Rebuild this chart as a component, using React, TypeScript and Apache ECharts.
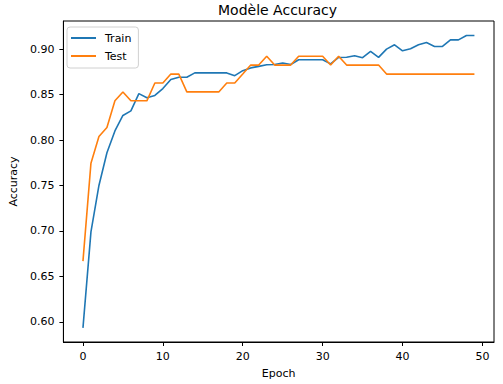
import React, { useEffect, useRef } from "react";
import * as echarts from "echarts";

const epochs = [
  0, 1, 2, 3, 4, 5, 6, 7, 8, 9, 10, 11, 12, 13, 14, 15, 16, 17, 18, 19, 20, 21, 22, 23, 24,
  25, 26, 27, 28, 29, 30, 31, 32, 33, 34, 35, 36, 37, 38, 39, 40, 41, 42, 43, 44, 45, 46, 47, 48, 49,
];

const trainAcc = [
  0.5934, 0.699, 0.75, 0.786, 0.81, 0.827, 0.832, 0.851, 0.8465, 0.849,
  0.8566, 0.8665, 0.869, 0.869, 0.8738, 0.8738, 0.8738, 0.8738, 0.8738, 0.8708,
  0.8763, 0.8793, 0.881, 0.8828, 0.883, 0.8847, 0.883, 0.8883, 0.8883, 0.8883,
  0.8883, 0.8837, 0.8908, 0.891, 0.8927, 0.8905, 0.8974, 0.8909, 0.9, 0.9047,
  0.8981, 0.9003, 0.9047, 0.9072, 0.9029, 0.9029, 0.9101, 0.9101, 0.9149, 0.9149,
];

const testAcc = [
  0.6667, 0.7745, 0.8039, 0.8137, 0.8431, 0.8529, 0.8431, 0.8431, 0.8431, 0.8627,
  0.8627, 0.8725, 0.8725, 0.8529, 0.8529, 0.8529, 0.8529, 0.8529, 0.8627, 0.8627,
  0.8725, 0.8824, 0.8824, 0.8922, 0.8824, 0.8824, 0.8824, 0.8922, 0.8922, 0.8922,
  0.8922, 0.8824, 0.8922, 0.8824, 0.8824, 0.8824, 0.8824, 0.8824, 0.8725, 0.8725,
  0.8725, 0.8725, 0.8725, 0.8725, 0.8725, 0.8725, 0.8725, 0.8725, 0.8725, 0.8725,
];

const xTicks = [0, 10, 20, 30, 40, 50];
const yTicks = [0.6, 0.65, 0.7, 0.75, 0.8, 0.85, 0.9];

const FONT = "DejaVu Sans";

export default function App() {
  const ref = useRef<HTMLDivElement>(null);

  useEffect(() => {
    if (!ref.current) return;
    const chart = echarts.init(ref.current, null, { renderer: "svg" });
    const gridLeft = 61;
    const gridRight = 9;
    chart.setOption({
      animation: false,
      backgroundColor: "#ffffff",
      graphic: [
        {
          type: "text",
          x: (gridLeft + (503 - gridRight)) / 2,
          y: 10,
          style: {
            text: "Modèle Accuracy",
            fontFamily: FONT,
            fontSize: 14,
            fill: "#000",
            textAlign: "center",
            textVerticalAlign: "middle",
          },
        },
      ],
      grid: {
        left: gridLeft,
        right: gridRight,
        top: 21,
        bottom: 40,
        show: true,
        borderColor: "#000",
        borderWidth: 1,
        backgroundColor: "#fff",
      },
      legend: {
        orient: "vertical",
        left: 67,
        top: 27,
        padding: [4, 7, 5, 4],
        itemGap: 4,
        itemWidth: 25,
        itemHeight: 2,
        icon: "rect",
        borderColor: "#d0d0d0",
        borderWidth: 1,
        borderRadius: 3,
        backgroundColor: "rgba(255,255,255,0.8)",
        textStyle: {
          fontFamily: FONT,
          fontSize: 11,
          color: "#000",
          lineHeight: 14,
          padding: [0, 0, 0, 4],
        },
        data: ["Train", "Test"],
      },
      xAxis: {
        type: "value",
        min: -2.45,
        max: 51.45,
        name: "Epoch",
        nameLocation: "middle",
        nameGap: 26,
        nameTextStyle: { fontFamily: FONT, fontSize: 11, color: "#000" },
        axisLine: { show: true, onZero: false, lineStyle: { color: "#000", width: 1 } },
        axisTick: {
          show: true,
          inside: false,
          length: 4,
          customValues: xTicks,
          lineStyle: { color: "#000", width: 1 },
        },
        axisLabel: {
          customValues: xTicks,
          fontFamily: FONT,
          fontSize: 11,
          color: "#000",
          margin: 9,
        },
        splitLine: { show: false },
      },
      yAxis: {
        type: "value",
        min: 0.5778,
        max: 0.9309,
        name: "Accuracy",
        nameLocation: "middle",
        nameGap: 40,
        nameTextStyle: { fontFamily: FONT, fontSize: 11, color: "#000" },
        axisLine: { show: true, onZero: false, lineStyle: { color: "#000", width: 1 } },
        axisTick: {
          show: true,
          inside: false,
          length: 4,
          customValues: yTicks,
          lineStyle: { color: "#000", width: 1 },
        },
        axisLabel: {
          customValues: yTicks,
          fontFamily: FONT,
          fontSize: 11,
          color: "#000",
          margin: 9,
          formatter: (v: number) => v.toFixed(2),
        },
        splitLine: { show: false },
      },
      series: [
        {
          name: "Train",
          type: "line",
          symbol: "none",
          showSymbol: false,
          color: "#1f77b4",
          lineStyle: { width: 1.6, color: "#1f77b4" },
          data: epochs.map((e, i) => [e, trainAcc[i]]),
        },
        {
          name: "Test",
          type: "line",
          symbol: "none",
          showSymbol: false,
          color: "#ff7f0e",
          lineStyle: { width: 1.6, color: "#ff7f0e" },
          data: epochs.map((e, i) => [e, testAcc[i]]),
        },
      ],
    });
    return () => chart.dispose();
  }, []);

  return (
    <div
      ref={ref}
      style={{ position: "fixed", left: 0, top: 0, width: 503, height: 384, background: "#fff" }}
    />
  );
}
